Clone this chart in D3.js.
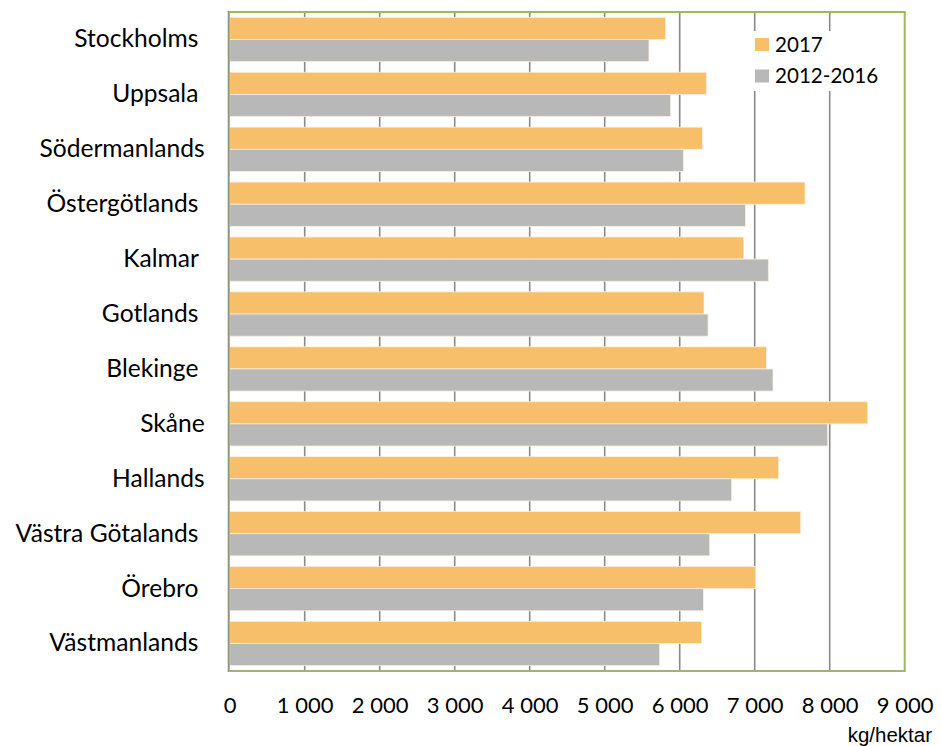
<!DOCTYPE html>
<html>
<head>
<meta charset="utf-8">
<script src="https://cdn.jsdelivr.net/npm/d3@7"></script>
<style>
  html, body { margin: 0; padding: 0; background: #fff; }
  svg { display: block; }
</style>
</head>
<body>
<div id="chart"></div>
<script>
// ---- Data ----
const categories = ["Stockholms ", "Uppsala ", "Södermanlands", "Östergötlands ", "Kalmar ", "Gotlands ",
  "Blekinge ", "Skåne", "Hallands", "Västra Götalands ", "Örebro ", "Västmanlands "];
const seriesNames = ["2017", "2012-2016"];
const values2017 = [5810, 6355, 6302, 7671, 6853, 6324, 7156, 8507, 7320, 7613, 7013, 6293];
const values20122016 = [5590, 5880, 6049, 6876, 7182, 6378, 7244, 7973, 6693, 6400, 6316, 5733];
const tickValues = [0, 1000, 2000, 3000, 4000, 5000, 6000, 7000, 8000, 9000];
const tickLabels = ["0", "1 000", "2 000", "3 000", "4 000", "5 000", "6 000", "7 000", "8 000", "9 000"];
const unitLabel = "kg/hektar";

const colors = { "2017": "#F7BF6A", "2012-2016": "#B8B8B8" };

// ---- Layout ----
const W = 942, H = 746;
const plot = { left: 229.7, right: 904.7, top: 12, bottom: 671 };

const svg = d3.select("#chart").append("svg").attr("width", W).attr("height", H);

const x = d3.scaleLinear().domain([0, 9000]).range([plot.left, plot.right]);
const y = d3.scaleBand().domain(categories).range([plot.top, plot.bottom]).padding(0);
const ySub = d3.scaleBand().domain(seriesNames).range([0, y.bandwidth()]).paddingInner(0).paddingOuter(0.24);

const rows = categories.map((c, i) => ({ cat: c, vals: [values2017[i], values20122016[i]] }));

// gridlines
svg.append("g").selectAll("line")
  .data(tickValues.filter(v => v > 0 && v < 9000))
  .join("line")
  .attr("x1", d => x(d)).attr("x2", d => x(d))
  .attr("y1", plot.top).attr("y2", plot.bottom)
  .attr("stroke", "#8a8a8a").attr("stroke-width", 1.6);

// bars
const groups = svg.append("g").selectAll("g")
  .data(rows).join("g")
  .attr("transform", d => `translate(0,${y(d.cat)})`);

groups.selectAll("rect")
  .data(d => seriesNames.map((s, j) => ({ s, v: d.vals[j] })))
  .join("rect")
  .attr("x", x(0))
  .attr("y", d => ySub(d.s))
  .attr("width", d => x(d.v) - x(0))
  .attr("height", ySub.bandwidth())
  .attr("fill", d => colors[d.s])
  .attr("stroke", "#fbeede").attr("stroke-width", 0.8);

// frame
svg.append("line").attr("x1", plot.left).attr("x2", plot.right + 1).attr("y1", plot.top).attr("y2", plot.top)
  .attr("stroke", "#9BBB59").attr("stroke-width", 2);
svg.append("line").attr("x1", plot.right).attr("x2", plot.right).attr("y1", plot.top).attr("y2", plot.bottom)
  .attr("stroke", "#9BBB59").attr("stroke-width", 2);
svg.append("line").attr("x1", plot.left).attr("x2", plot.right + 1).attr("y1", plot.bottom).attr("y2", plot.bottom)
  .attr("stroke", "#A3AF7C").attr("stroke-width", 2);
svg.append("line").attr("x1", plot.left - 1).attr("x2", plot.left - 1).attr("y1", plot.top - 1).attr("y2", plot.bottom + 1)
  .attr("stroke", "#8f9480").attr("stroke-width", 2);

// category axis
const yAxis = d3.axisLeft(y).tickSize(0).tickPadding(25);
const yg = svg.append("g").attr("transform", `translate(${plot.left},0)`).call(yAxis);
yg.select(".domain").remove();
yg.selectAll("text")
  .attr("font-family", "Lato, 'Open Sans', sans-serif")
  .attr("font-size", 24.6).attr("fill", "#000")
  .attr("dy", "0.32em")
  .style("white-space", "pre");

// value axis
const xAxis = d3.axisBottom(x).tickValues(tickValues).tickSize(0).tickPadding(0)
  .tickFormat((d, i) => tickLabels[i]);
const xg = svg.append("g").attr("transform", `translate(0,${plot.bottom})`).call(xAxis);
xg.select(".domain").remove();
xg.selectAll("text")
  .attr("font-family", "Lato, 'Open Sans', sans-serif")
  .attr("font-size", 22).attr("fill", "#000")
  .attr("y", 42).attr("dy", 0);

// unit label
svg.append("text").attr("x", 932).attr("y", 742).attr("text-anchor", "end")
  .attr("font-family", "'Liberation Sans', Arial, sans-serif").attr("font-size", 20.5).attr("fill", "#000")
  .text(unitLabel);

// legend
const lg = svg.append("g");
lg.append("rect").attr("x", 748).attr("y", 31).attr("width", 148).attr("height", 60).attr("fill", "#fff");
const items = lg.selectAll("g").data(seriesNames).join("g")
  .attr("transform", (d, i) => `translate(755,${38 + i * 31.5})`);
items.append("rect").attr("width", 14).attr("height", 13).attr("fill", d => colors[d]);
items.append("text").attr("x", 20).attr("y", 6.5).attr("dy", "0.36em")
  .attr("font-family", "Lato, 'Open Sans', sans-serif").attr("font-size", 20.6).attr("fill", "#000")
  .text(d => d);
</script>
</body>
</html>
